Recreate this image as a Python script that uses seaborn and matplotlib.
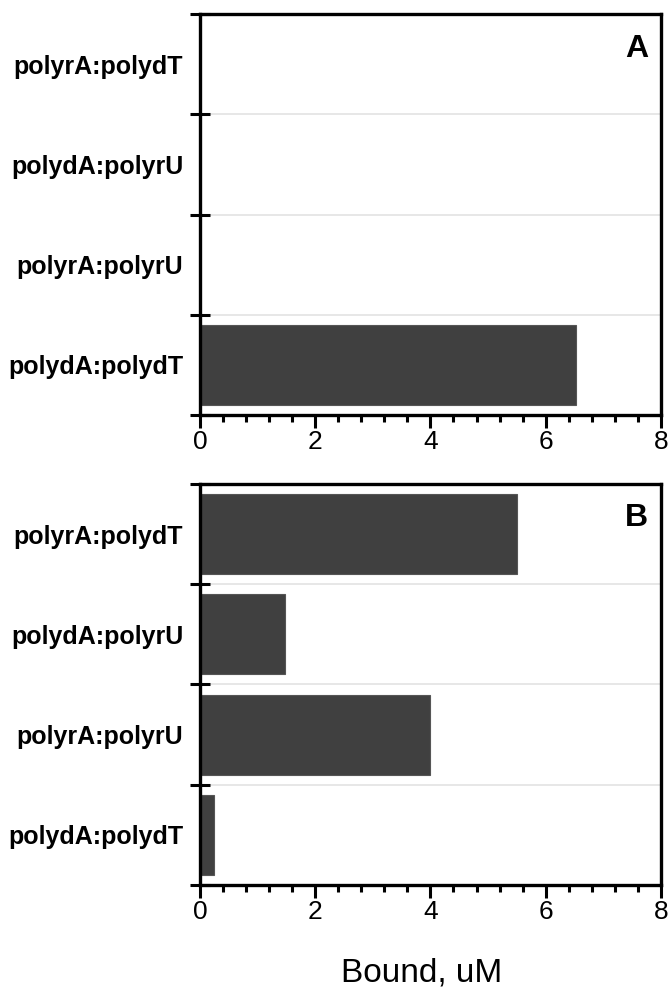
import pandas as pd
import matplotlib
matplotlib.use('Agg')
import matplotlib.pyplot as plt
import seaborn as sns
from matplotlib.ticker import MultipleLocator, FixedLocator

# Data
substrates = ['polyrA:polydT', 'polydA:polyrU', 'polyrA:polyrU', 'polydA:polydT']
bound_a = [0.0, 0.0, 0.0, 6.52]
bound_b = [5.5, 1.48, 4.0, 0.25]
panel_labels = ['A', 'B']

sns.set_style('white')
plt.rcParams['font.family'] = ['Liberation Sans', 'DejaVu Sans']
plt.rcParams['text.color'] = 'black'
plt.rcParams['xtick.color'] = 'black'
plt.rcParams['ytick.color'] = 'black'

fig = plt.figure(figsize=(6.71, 9.89), dpi=100)
ax_a = fig.add_axes([0.298, 0.5804, 0.687, 0.4054])
ax_b = fig.add_axes([0.298, 0.1052, 0.687, 0.4054])

for ax, vals, lab in zip([ax_a, ax_b], [bound_a, bound_b], panel_labels):
    df = pd.DataFrame({'substrate': substrates, 'bound': vals})
    sns.barplot(data=df, x='bound', y='substrate', orient='h', color='#404040',
                saturation=1, width=0.8, edgecolor='#555555', linewidth=0.8, ax=ax)
    ax.set_xlim(0, 8)
    ax.set_ylim(3.5, -0.5)
    ax.set_xlabel('')
    ax.set_ylabel('')
    # light grid lines at the category boundaries
    for b in [0.5, 1.5, 2.5]:
        ax.axhline(b, color='#e3e3e3', lw=1.2, zorder=0)
    for s in ax.spines.values():
        s.set_visible(True)
        s.set_color('black')
        s.set_linewidth(2.4)
    ax.xaxis.set_major_locator(MultipleLocator(2))
    ax.xaxis.set_minor_locator(MultipleLocator(0.4))
    ax.tick_params(axis='x', which='major', direction='out', length=9, width=2.2,
                   labelsize=19, pad=2, bottom=True)
    ax.tick_params(axis='x', which='minor', direction='out', length=5, width=2.2, bottom=True)
    ax.yaxis.set_minor_locator(FixedLocator([-0.5, 0.5, 1.5, 2.5, 3.5]))
    ax.tick_params(axis='y', which='minor', direction='inout', length=14, width=2.2, left=True)
    ax.tick_params(axis='y', which='major', length=0, labelsize=18, pad=12)
    for t in ax.get_yticklabels():
        t.set_fontweight('bold')
    ax.text(0.972, 0.914, lab, transform=ax.transAxes, ha='right', va='center',
            fontsize=23, fontweight='bold')

fig.text(0.629, 0.016, 'Bound, uM', ha='center', va='center', fontsize=24)

fig.savefig('out.png', dpi=100)
